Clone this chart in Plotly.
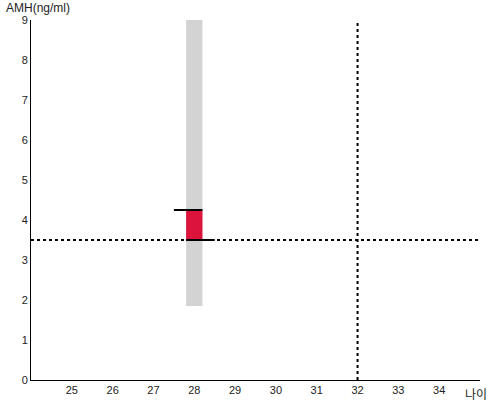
import plotly.graph_objects as go

# data
age_ticks = [25, 26, 27, 28, 29, 30, 31, 32, 33, 34]
amh_ticks = [0, 1, 2, 3, 4, 5, 6, 7, 8, 9]
bar_age = [28]
range_low = [1.85]
range_high = [9.0]
value_low = [3.5]
value_high = [4.25]
top_line_x = [27.5, 28.2]
bottom_line_x = [27.8, 28.5]
ref_age = 32
ref_amh = 3.5
x_range = [24, 35]
y_range = [0, 9]

fig = go.Figure()
fig.add_trace(go.Bar(x=bar_age, y=[range_high[0] - range_low[0]], base=range_low,
                     width=0.4, marker=dict(color="#d3d3d3", line=dict(width=0)),
                     hoverinfo="skip"))
fig.add_trace(go.Bar(x=bar_age, y=[value_high[0] - value_low[0]], base=value_low,
                     width=0.4, marker=dict(color="#dc143c", line=dict(width=0)),
                     hoverinfo="skip"))
fig.add_trace(go.Scatter(x=top_line_x, y=[value_high[0]] * 2, mode="lines",
                         line=dict(color="black", width=2)))
fig.add_trace(go.Scatter(x=bottom_line_x, y=[value_low[0]] * 2, mode="lines",
                         line=dict(color="black", width=2)))
fig.add_trace(go.Scatter(x=x_range, y=[ref_amh, ref_amh], mode="lines",
                         line=dict(color="black", width=2, dash="dot"), cliponaxis=False))
fig.add_trace(go.Scatter(x=[ref_age, ref_age], y=y_range, mode="lines",
                         line=dict(color="black", width=2, dash="dot"), cliponaxis=False))

fig.update_layout(
    width=500, height=400,
    margin=dict(l=31, r=20, t=20, b=20, autoexpand=False),
    plot_bgcolor="white", paper_bgcolor="white",
    showlegend=False, barmode="overlay",
    font=dict(family="Liberation Sans, Arial", size=11, color="#222"),
    xaxis=dict(range=x_range, tickvals=age_ticks, showgrid=False, zeroline=False,
               automargin=False,
               showline=True, linecolor="black", linewidth=1, ticks="", ticklen=0),
    yaxis=dict(range=y_range, tickvals=amh_ticks, showgrid=False, zeroline=False,
               automargin=False,
               showline=True, linecolor="black", linewidth=1, ticks="", ticklen=0),
    annotations=[
        dict(text="AMH(ng/ml)", x=0, y=1, xref="paper", yref="paper", xanchor="left",
             yanchor="bottom", xshift=-27, yshift=3, showarrow=False,
             font=dict(size=12, color="#222")),
        dict(text="나이", x=1, y=0, xref="paper", yref="paper", xanchor="right",
             yanchor="top", xshift=9, yshift=-3, showarrow=False,
             font=dict(family="Noto Sans CJK KR", size=12, color="#222")),
    ],
)
fig.write_html("out.html", config={"displayModeBar": False},
               post_script="document.body.style.margin='0';")
